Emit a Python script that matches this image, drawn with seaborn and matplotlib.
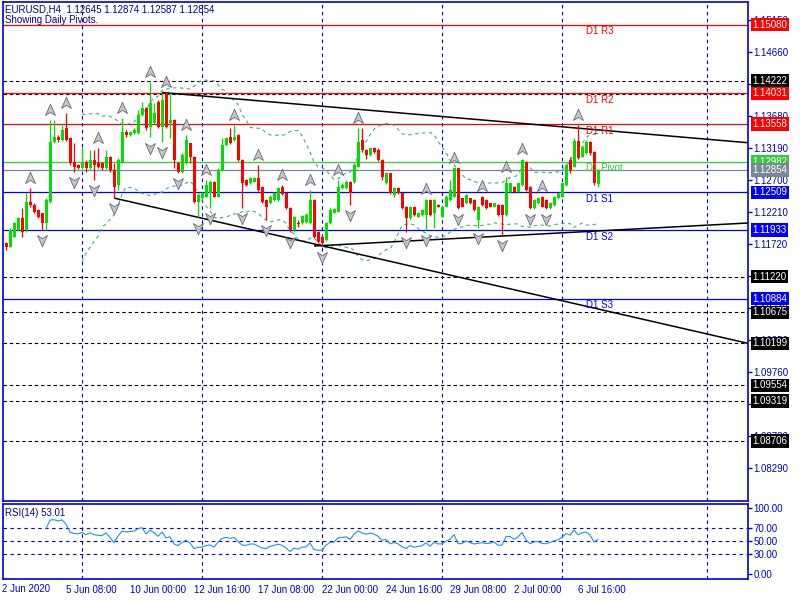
import numpy as np
import pandas as pd
import matplotlib
matplotlib.use("Agg")
import matplotlib.pyplot as plt
import seaborn as sns
from matplotlib.path import Path

sns.set_style("white")
plt.rcParams["font.family"] = ["Liberation Sans", "DejaVu Sans"]
plt.rcParams["lines.scale_dashes"] = False

# ---------------- data (EURUSD H4) ----------------
opens = [
    1.11735, 1.11674, 1.11827, 1.11934, 1.12118, 1.11934, 1.12363, 1.12317, 1.12241, 1.12195,
    1.12042, 1.12363, 1.13282, 1.13358, 1.13313, 1.13496, 1.13343, 1.12976, 1.12930, 1.12884,
    1.12976, 1.12884, 1.13006, 1.12960, 1.12960, 1.12884, 1.13052, 1.12853, 1.12623, 1.12976,
    1.13435, 1.13389, 1.13420, 1.13420, 1.13695, 1.13803, 1.13512, 1.13573, 1.13894, 1.13512,
    1.14032, 1.13573, 1.13619, 1.12960, 1.12823, 1.12960, 1.13266, 1.13052, 1.12363, 1.12424,
    1.12440, 1.12501, 1.12669, 1.12440, 1.12853, 1.13236, 1.13358, 1.13313, 1.13389, 1.13006,
    1.12700, 1.12654, 1.12669, 1.12731, 1.12593, 1.12394, 1.12348, 1.12394, 1.12394, 1.12593,
    1.12501, 1.12271, 1.11934, 1.12042, 1.12042, 1.12057, 1.12042, 1.12394, 1.11904, 1.11827,
    1.11781, 1.12042, 1.12195, 1.12210, 1.12577, 1.12577, 1.12669, 1.12669, 1.12899, 1.13313,
    1.13159, 1.13083, 1.13190, 1.13159, 1.13006, 1.12654, 1.12807, 1.12470, 1.12577, 1.12501,
    1.12287, 1.12118, 1.12287, 1.12133, 1.12164, 1.12164, 1.12394, 1.12195, 1.12317, 1.12133,
    1.12287, 1.12394, 1.12440, 1.12884, 1.12424, 1.12348, 1.12424, 1.12394, 1.12088, 1.12440,
    1.12394, 1.12348, 1.12287, 1.12317, 1.12317, 1.12164, 1.12516, 1.12593, 1.12516, 1.12623,
    1.12976, 1.12593, 1.12271, 1.12348, 1.12440, 1.12394, 1.12271, 1.12317, 1.12424, 1.12440,
    1.12623, 1.13006, 1.12899, 1.13297, 1.13052, 1.13113, 1.13282, 1.13129, 1.12645,
]
highs = [
    1.11751, 1.11965, 1.12057, 1.12133, 1.12271, 1.12501, 1.12577, 1.12348, 1.12256, 1.12195,
    1.12424, 1.13619, 1.13619, 1.13389, 1.13542, 1.13726, 1.13358, 1.13266, 1.12945, 1.13205,
    1.13006, 1.13159, 1.13159, 1.13190, 1.12976, 1.13159, 1.13067, 1.12960, 1.13037, 1.13649,
    1.13466, 1.13450, 1.13496, 1.13772, 1.13894, 1.13818, 1.14200, 1.13879, 1.13925, 1.14032,
    1.14048, 1.14032, 1.13634, 1.12976, 1.13113, 1.13389, 1.13266, 1.13067, 1.12501, 1.12516,
    1.12700, 1.12700, 1.12685, 1.12884, 1.13343, 1.13358, 1.13496, 1.13542, 1.13404, 1.13022,
    1.12715, 1.12746, 1.12746, 1.12930, 1.12608, 1.12409, 1.12470, 1.12516, 1.12593, 1.12623,
    1.12501, 1.12287, 1.12149, 1.12088, 1.12164, 1.12195, 1.12547, 1.12409, 1.11919, 1.11858,
    1.12057, 1.12271, 1.12271, 1.12700, 1.12654, 1.12700, 1.12685, 1.12960, 1.13496, 1.13496,
    1.13175, 1.13205, 1.13205, 1.13190, 1.13022, 1.12823, 1.12807, 1.12593, 1.12593, 1.12501,
    1.12302, 1.12302, 1.12302, 1.12195, 1.12256, 1.12409, 1.12409, 1.12409, 1.12333, 1.12302,
    1.12470, 1.12700, 1.12884, 1.12884, 1.12424, 1.12486, 1.12424, 1.12409, 1.12302, 1.12455,
    1.12409, 1.12348, 1.12348, 1.12333, 1.12333, 1.12746, 1.12654, 1.12608, 1.12654, 1.13022,
    1.12991, 1.12608, 1.12409, 1.12424, 1.12455, 1.12409, 1.12348, 1.12455, 1.12501, 1.12654,
    1.12945, 1.13052, 1.13343, 1.13542, 1.13236, 1.13313, 1.13297, 1.13144, 1.12874,
]
lows = [
    1.11628, 1.11674, 1.11827, 1.11919, 1.11827, 1.11904, 1.12287, 1.12195, 1.12118, 1.11934,
    1.11934, 1.12348, 1.13266, 1.13282, 1.13297, 1.13297, 1.12930, 1.12823, 1.12868, 1.12868,
    1.12823, 1.12868, 1.12700, 1.12884, 1.12853, 1.12868, 1.12823, 1.12424, 1.12547, 1.12960,
    1.13358, 1.13374, 1.13404, 1.13404, 1.13680, 1.13466, 1.13358, 1.13558, 1.13496, 1.13282,
    1.13496, 1.13343, 1.12884, 1.12807, 1.12807, 1.12945, 1.12960, 1.12348, 1.12133, 1.12409,
    1.12440, 1.12271, 1.12440, 1.12440, 1.12838, 1.13221, 1.13251, 1.13297, 1.12991, 1.12271,
    1.12608, 1.12639, 1.12669, 1.12532, 1.12348, 1.12088, 1.12333, 1.12378, 1.12378, 1.12470,
    1.12256, 1.11904, 1.11904, 1.11980, 1.12026, 1.12042, 1.12026, 1.11812, 1.11735, 1.11674,
    1.11766, 1.12026, 1.12195, 1.12210, 1.12562, 1.12562, 1.12317, 1.12654, 1.12899, 1.13129,
    1.13022, 1.13067, 1.13113, 1.12991, 1.12700, 1.12639, 1.12486, 1.12440, 1.12486, 1.12256,
    1.11904, 1.12103, 1.12149, 1.12133, 1.12149, 1.11934, 1.12149, 1.11965, 1.12287, 1.12133,
    1.12287, 1.12378, 1.12440, 1.12256, 1.12287, 1.12333, 1.12333, 1.12225, 1.11965, 1.12302,
    1.12256, 1.12287, 1.12287, 1.12149, 1.11858, 1.12149, 1.12501, 1.12501, 1.12516, 1.12608,
    1.12532, 1.12256, 1.12256, 1.12333, 1.12287, 1.12256, 1.12256, 1.12302, 1.12409, 1.12440,
    1.12608, 1.12807, 1.12899, 1.13022, 1.13052, 1.13098, 1.13083, 1.12623, 1.12587,
]
closes = [
    1.11674, 1.11934, 1.12042, 1.12118, 1.11904, 1.12363, 1.12317, 1.12210, 1.12133, 1.12042,
    1.12394, 1.13282, 1.13358, 1.13313, 1.13466, 1.13313, 1.12960, 1.12899, 1.12884, 1.12976,
    1.12884, 1.13006, 1.12930, 1.12899, 1.12884, 1.13052, 1.12853, 1.12593, 1.13006, 1.13435,
    1.13389, 1.13435, 1.13466, 1.13695, 1.13803, 1.13496, 1.13879, 1.13726, 1.13512, 1.13925,
    1.13512, 1.13619, 1.13006, 1.12823, 1.13083, 1.13313, 1.13052, 1.12363, 1.12470, 1.12501,
    1.12623, 1.12669, 1.12440, 1.12853, 1.13236, 1.13343, 1.13266, 1.13358, 1.13006, 1.12654,
    1.12623, 1.12731, 1.12731, 1.12547, 1.12363, 1.12287, 1.12440, 1.12501, 1.12577, 1.12486,
    1.12271, 1.11934, 1.12133, 1.12026, 1.12149, 1.12164, 1.12394, 1.11827, 1.11751, 1.11735,
    1.12042, 1.12241, 1.12256, 1.12593, 1.12623, 1.12669, 1.12501, 1.12930, 1.13282, 1.13159,
    1.13083, 1.13190, 1.13129, 1.13006, 1.12746, 1.12807, 1.12501, 1.12577, 1.12501, 1.12271,
    1.12118, 1.12287, 1.12164, 1.12195, 1.12241, 1.12394, 1.12164, 1.12394, 1.12287, 1.12287,
    1.12440, 1.12547, 1.12884, 1.12271, 1.12287, 1.12470, 1.12348, 1.12241, 1.12287, 1.12317,
    1.12271, 1.12287, 1.12348, 1.12164, 1.12164, 1.12654, 1.12654, 1.12516, 1.12654, 1.13006,
    1.12547, 1.12271, 1.12394, 1.12424, 1.12287, 1.12271, 1.12348, 1.12440, 1.12501, 1.12654,
    1.12930, 1.12853, 1.13297, 1.13037, 1.13205, 1.13282, 1.13113, 1.12654, 1.12854,
]

# daily pivot levels
pivot_names = ["D1 R3", "D1 R2", "D1 R1", "D1 Pivot", "D1 S1", "D1 S2", "D1 S3"]
pivot_values = [1.15080, 1.14031, 1.13558, 1.12982, 1.12509, 1.11933, 1.10884]
pivot_colors = ["#ff0000", "#ff0000", "#ff0000", "#32cd32", "#0000ff", "#0000ff", "#0000ff"]

# dashed horizontal levels (labelled) and one unlabelled under R2
hline_values = [1.14222, 1.11220, 1.10675, 1.10199, 1.09554, 1.09319, 1.08706]
hline_extra = [1.14016]
bid_price = 1.12854

# trend lines (bar index, price)
trend_lines = [
    ([39, 185.5], [1.14040, 1.13271]),
    ([27, 185.5], [1.12424, 1.10199]),
    ([77, 185.5], [1.11690, 1.12042]),
]

price_ticks = [1.08290, 1.08780, 1.09270, 1.09760, 1.10250, 1.10740, 1.11230, 1.11720,
               1.12210, 1.12700, 1.13190, 1.13680, 1.14170, 1.14660, 1.15150]
time_tick_pos = [15, 31, 47, 63, 79, 95, 111, 127, 143]
time_tick_labels = ["5 Jun 08:00", "10 Jun 00:00", "12 Jun 16:00", "17 Jun 08:00",
                    "22 Jun 00:00", "24 Jun 16:00", "29 Jun 08:00", "2 Jul 00:00", "6 Jul 16:00"]
grid_pos = [19, 49, 79, 109, 139, 175.25]
rsi_levels = [30, 50, 70]
rsi_ticks = [0, 30, 50, 70, 100]

title_text = "EURUSD,H4  1.12645 1.12874 1.12587 1.12854"
subtitle_text = "Showing Daily Pivots."
rsi_label = "RSI(14) 53.01"

# ---------------- derived series ----------------
df = pd.DataFrame({"o": opens, "h": highs, "l": lows, "c": closes})
df["x"] = np.arange(len(df))
n = len(df)
mid = df["c"].rolling(20).mean()
sd = df["c"].rolling(20).std(ddof=0)
df["bb_up"] = mid + 2 * sd
df["bb_lo"] = mid - 2 * sd

delta = df["c"].diff()
gain = delta.clip(lower=0)
loss = (-delta).clip(lower=0)
ag = gain.ewm(alpha=1 / 14, adjust=True, min_periods=10).mean()
al = loss.ewm(alpha=1 / 14, adjust=True, min_periods=10).mean()
df["rsi"] = 100 - 100 / (1 + ag / al)

H = df["h"].values
L = df["l"].values
up_fr = [i for i in range(2, n - 2) if H[i] > max(H[i - 2:i]) and H[i] >= max(H[i + 1:i + 3])]
dn_fr = [i for i in range(2, n - 2) if L[i] < min(L[i - 2:i]) and L[i] <= min(L[i + 1:i + 3])]

# ---------------- figure ----------------
W, HH = 800, 600
FG = "#0000dd"
BULL = "#00e000"
BEAR = "#ff0000"
fig = plt.figure(figsize=(8, 6), dpi=100)
ax = fig.add_axes([3 / W, 1 - 501 / HH, 745 / W, 499 / HH])
ar = fig.add_axes([3 / W, 1 - 579 / HH, 745 / W, 75 / HH])
for a in (ax, ar):
    for s in a.spines.values():
        s.set_color(FG)
        s.set_linewidth(1.2)
    a.set_xlim(-0.75, 185.5)
    a.set_facecolor("white")
    for g in grid_pos:
        a.axvline(g, color=FG, lw=0.8, ls=(0, (2.5, 2.5)), zorder=1)
ax.set_ylim(1.07785, 1.15426)
ar.set_ylim(-7.6, 106.5)

# horizontal objects
for v in hline_values + hline_extra:
    ax.axhline(v, color="black", lw=0.8, ls=(0, (2.5, 2)), zorder=1.5)
for v, c in zip(pivot_values, pivot_colors):
    ax.axhline(v, color=c, lw=0.9, zorder=1.6)
ax.axhline(bid_price, color="#778899", lw=0.9, zorder=1.6)
for nm, v, c in zip(pivot_names, pivot_values, pivot_colors):
    ax.text(145, v - 0.00025, nm, color=c, fontsize=7, va="top", ha="left", zorder=4)

# bollinger style bands
for col in ("bb_up", "bb_lo"):
    sns.lineplot(data=df, x="x", y=col, ax=ax, color="#3cb371", lw=0.8,
                 linestyle=(0, (2.5, 2.5)), zorder=2)

# trend lines
for xs, ys in trend_lines:
    ax.plot(xs, ys, color="black", lw=1.1, zorder=2.5, solid_capstyle="butt")

# candles
up = df["c"] >= df["o"]
colors = np.where(up, BULL, BEAR)
ax.vlines(df["x"], df["l"], df["h"], colors=colors, lw=0.9, zorder=3)
body_h = np.maximum((df["c"] - df["o"]).abs(), 0.00006)
ax.bar(df["x"], body_h, bottom=np.minimum(df["o"], df["c"]), width=0.75,
       color=colors, linewidth=0, zorder=3.1)

# fractal arrows
arrow_up = Path([(0, 1), (0.8, -0.8), (0, -0.3), (-0.8, -0.8), (0, 1)],
                [Path.MOVETO, Path.LINETO, Path.LINETO, Path.LINETO, Path.CLOSEPOLY])
arrow_dn = Path([(0, -1), (0.8, 0.8), (0, 0.3), (-0.8, 0.8), (0, -1)],
                [Path.MOVETO, Path.LINETO, Path.LINETO, Path.LINETO, Path.CLOSEPOLY])
off = 0.0016
ax.plot(up_fr, H[up_fr] + off, ls="none", marker=arrow_up, ms=9,
        mfc="#c4c4cc", mec="#6a6a78", mew=0.6, zorder=3.5)
ax.plot(dn_fr, L[dn_fr] - off, ls="none", marker=arrow_dn, ms=9,
        mfc="#c4c4cc", mec="#6a6a78", mew=0.6, zorder=3.5)

# price axis
ax.set_xticks([])
ax.yaxis.tick_right()
ax.set_yticks(price_ticks)
ax.set_yticklabels([f"{t:.5f}" for t in price_ticks])
ax.tick_params(axis="y", colors=FG, labelcolor=FG, length=3, width=1, labelsize=7, pad=0.5)
ax.set_ylabel("")
ax.set_xlabel("")

# price boxes
ytr = ax.get_yaxis_transform()
boxes = [(v, c) for v, c in zip(pivot_values, pivot_colors)] + \
        [(v, "black") for v in hline_values] + [(bid_price, "#778899")]
for v, c in boxes:
    ax.text(1.0058, v, f"{v:.5f}", transform=ytr, color="white", fontsize=7,
            ha="left", va="center", clip_on=False, zorder=20,
            bbox=dict(boxstyle="square,pad=0.18", fc=c, ec="none"))

# RSI
for lv in rsi_levels:
    ar.axhline(lv, color=FG, lw=0.8, ls=(0, (2.5, 2.5)), zorder=1)
sns.lineplot(data=df, x="x", y="rsi", ax=ar, color="#1e90ff", lw=0.8, zorder=3)
ar.yaxis.tick_right()
ar.set_yticks(rsi_ticks)
ar.set_yticklabels([f"{t:.2f}" for t in rsi_ticks])
ar.set_xticks(time_tick_pos)
ar.set_xticklabels(time_tick_labels)
for lbl in ar.get_xticklabels():
    lbl.set_ha("left")
ar.tick_params(axis="both", colors=FG, labelcolor=FG, length=3, width=1, labelsize=7, pad=1)
ar.set_ylabel("")
ar.set_xlabel("")

# texts
fig.text(5 / W, 1 - 9 / HH, title_text, color="#000099", fontsize=7, va="center", ha="left")
fig.text(5 / W, 1 - 20 / HH, subtitle_text, color="#000099", fontsize=7, va="center", ha="left")
fig.text(5 / W, 1 - 513 / HH, rsi_label, color="#000099", fontsize=7, va="center", ha="left")
fig.text(2 / W, 1 - 589 / HH, "2 Jun 2020", color=FG, fontsize=7, va="center", ha="left")

fig.savefig("out.png", dpi=100, facecolor="white")
